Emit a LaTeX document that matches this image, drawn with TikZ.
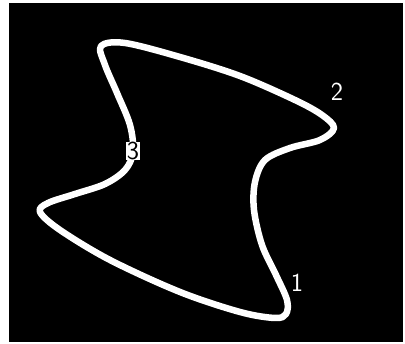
\documentclass[tikz,border=0pt]{standalone}
\usepackage{tikz}
\tikzset{
  loopline/.style={draw=white, line width=6.5pt, line join=round},
  numlabel/.style={text=white, font=\sffamily\fontsize{26}{26}\selectfont, inner sep=0pt},
  cutlabel/.style={fill=white, text=black, font=\sffamily\fontsize{26}{26}\selectfont, inner sep=0.5pt},
}

\begin{document}
\begin{tikzpicture}[x=1pt, y=-1pt]
    % page and dark screen
    \useasboundingbox (0,0) rectangle (405,344);
    \fill[white] (0,0) rectangle (405,344);
    \fill[black] (9,3) rectangle (403,342);

    % closed curve
    \draw[loopline] plot[smooth cycle, tension=0.55] coordinates {
        (101,46) (125,43) (180,57) (240,76) (295,100) (322,115) (334,128)
        (320,140) (290,148) (265,160) (255,182) (254,210) (262,245)
        (276,275) (287,300) (286,314) (275,318) (240,312) (180,292)
        (110,260) (60,230) (40,212) (48,203) (75,194) (105,184)
        (125,170) (133,152) (130,125) (117,93) (105,65)};

    \node[numlabel] (n1) at (297,283) {1};
    \node[numlabel] (n2) at (337,92) {2};
    \node[cutlabel] (n3) at (133,151) {3};
\end{tikzpicture}
\end{document}
